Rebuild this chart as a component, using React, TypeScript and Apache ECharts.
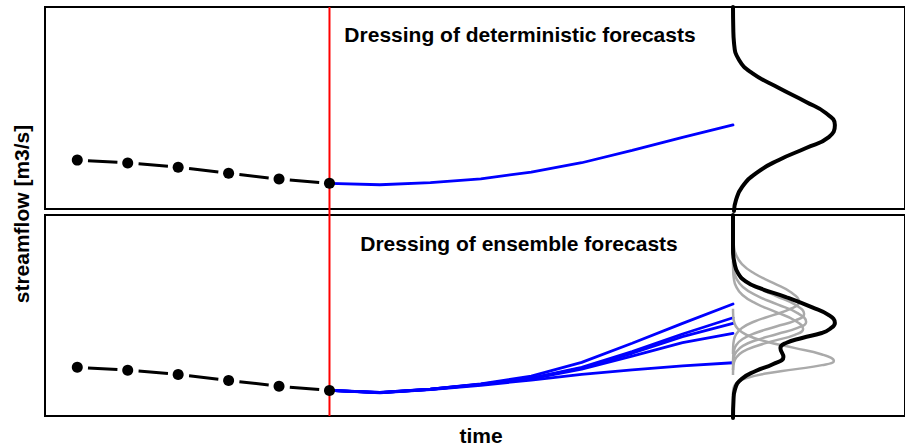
import React, { useEffect, useRef } from 'react';
import * as echarts from 'echarts';

// ---- data ----
const TIME_OBS = [-5, -4, -3, -2, -1, 0];
const OBS = [24.2, 22.8, 20.7, 17.7, 14.8, 12.7];

const TIME_FC = [0, 1, 2, 3, 4, 5, 6, 7, 8];
const DET_FC = [12.7, 12.0, 13.1, 14.9, 18.3, 22.9, 29.0, 35.5, 41.6];

const ENS_1 = [12.7, 11.8, 13.4, 16.0, 19.8, 26.7, 36.2, 46.1, 55.7];
const ENS_2 = [12.7, 11.7, 13.3, 15.8, 18.9, 24.2, 32.0, 40.8, 48.9];
const ENS_3 = [12.7, 11.6, 13.3, 15.7, 18.7, 23.8, 31.2, 39.5, 46.1];
const ENS_4 = [12.7, 11.6, 13.2, 15.6, 18.5, 23.3, 29.8, 36.5, 41.1];
const ENS_5 = [12.7, 11.5, 13.1, 15.3, 17.9, 20.7, 22.9, 24.9, 26.5];
const ENSEMBLE = [ENS_1, ENS_2, ENS_3, ENS_4, ENS_5];

// density curves at forecast end (time 8): [density, streamflow]
const DENS_BASE = 8;
const DET_DENSITY: [number, number][] = [
  [0.02, -1], [0.06, 4.5], [0.18, 10.9], [0.46, 17.8], [0.91, 24.3], [1.45, 30.2],
  [1.9, 35.6], [2.02, 41.6], [1.84, 47.5], [1.45, 53.0], [0.91, 59.9], [0.38, 67.3],
  [0.12, 73.8], [0.02, 82.2], [0.005, 90], [0, 100],
];

const KERNEL_1: [number, number][] = [
  [0, 30.8], [0.003, 34.1], [0.015, 37.3], [0.058, 40.5], [0.177, 43.8], [0.425, 47.0],
  [0.795, 50.2], [1.156, 53.5], [1.31, 56.7], [1.156, 61.4], [0.795, 66.2], [0.425, 70.9],
  [0.177, 75.6], [0.058, 80.3], [0.015, 85.1], [0.003, 89.8], [0, 94.5],
];
const KERNEL_2: [number, number][] = [
  [0, 25.8], [0.003, 28.9], [0.016, 32.0], [0.062, 35.2], [0.191, 38.3], [0.458, 41.4],
  [0.855, 44.5], [1.244, 47.6], [1.41, 50.7], [1.244, 55.2], [0.855, 59.7], [0.458, 64.1],
  [0.191, 68.6], [0.062, 73.1], [0.016, 77.6], [0.003, 82.1], [0, 86.5],
];
const KERNEL_3: [number, number][] = [
  [0, 22.9], [0.003, 25.9], [0.016, 28.9], [0.064, 31.9], [0.196, 34.9], [0.471, 37.8],
  [0.879, 40.8], [1.28, 43.8], [1.45, 46.8], [1.28, 51.2], [0.879, 55.5], [0.471, 59.9],
  [0.196, 64.2], [0.064, 68.6], [0.016, 72.9], [0.003, 77.3], [0, 81.6],
];
const KERNEL_4: [number, number][] = [
  [0, 20.4], [0.003, 23.3], [0.015, 26.1], [0.061, 29.0], [0.188, 31.9], [0.451, 34.7],
  [0.843, 37.6], [1.227, 40.4], [1.39, 43.3], [1.227, 47.5], [0.843, 51.8], [0.451, 56.0],
  [0.188, 60.2], [0.061, 64.5], [0.015, 68.7], [0.003, 72.9], [0, 77.1],
];
const KERNEL_5: [number, number][] = [
  [0, 10.5], [0.004, 12.6], [0.022, 14.7], [0.088, 16.8], [0.271, 18.9], [0.649, 21.1],
  [1.213, 23.2], [1.765, 25.3], [2.0, 27.4], [1.765, 30.6], [1.213, 33.9], [0.649, 37.1],
  [0.271, 40.3], [0.088, 43.6], [0.022, 46.8], [0.004, 50.0], [0, 53.3],
];
const KERNELS = [KERNEL_1, KERNEL_2, KERNEL_3, KERNEL_4, KERNEL_5];

const ENS_DENSITY: [number, number][] = [
  [0, -1], [0.01, 8.0], [0.04, 13.4], [0.17, 18.4], [0.45, 22.4], [0.8, 25.9],
  [1.0, 29.4], [0.94, 33.8], [1.05, 36.3], [1.37, 38.8], [1.76, 41.3], [1.92, 43.3],
  [2.02, 46.3], [1.9, 50.2], [1.56, 54.2], [1.05, 59.2], [0.52, 63.7], [0.25, 67.0],
  [0.1, 71.0], [0.03, 76.0], [0, 82.6], [0, 100],
];

const TITLE_TOP = 'Dressing of deterministic forecasts';
const TITLE_BOTTOM = 'Dressing of ensemble forecasts';
const Y_LABEL = 'streamflow [m3/s]';
const X_LABEL = 'time';

// ---- chart ----
const FONT = 'Liberation Sans, Arial, sans-serif';
const X_MIN = -5.64;
const X_MAX = 11.41;

function pairs(xs: number[], ys: number[]) {
  return xs.map((x, i) => [x, ys[i]]);
}
function densityToXY(d: [number, number][]) {
  return d.map(([dens, flow]) => [DENS_BASE + dens, flow]);
}

function buildOption(): echarts.EChartsOption {
  const series: any[] = [];
  // red vertical line at forecast start, spanning both panels
  series.push({
    type: 'line', xAxisIndex: 2, yAxisIndex: 2, data: [[0, 0], [0, 1]],
    symbol: 'none', lineStyle: { color: '#ff0000', width: 2 }, silent: true,
  });
  const obsSeries = (idx: number) => ({
    type: 'line', xAxisIndex: idx, yAxisIndex: idx, data: pairs(TIME_OBS, OBS),
    symbol: 'circle', symbolSize: 11, showAllSymbol: true,
    itemStyle: { color: '#000' },
    lineStyle: { color: '#000', width: 3, type: [29.5, 21.2], dashOffset: 40.1, cap: 'butt' },
    silent: true, z: 5,
  });
  // top panel
  series.push({
    type: 'line', xAxisIndex: 0, yAxisIndex: 0, data: pairs(TIME_FC, DET_FC),
    symbol: 'none', lineStyle: { color: '#0000ff', width: 2.8, cap: 'round' }, silent: true,
  });
  series.push(obsSeries(0));
  series.push({
    type: 'line', xAxisIndex: 0, yAxisIndex: 0, data: densityToXY(DET_DENSITY),
    symbol: 'none', smooth: 0.5, clip: false,
    lineStyle: { color: '#000', width: 4, cap: 'round' }, silent: true, z: 4,
  });
  // bottom panel
  ENSEMBLE.forEach((m) => {
    series.push({
      type: 'line', xAxisIndex: 1, yAxisIndex: 1, data: pairs(TIME_FC, m),
      symbol: 'none', lineStyle: { color: '#0000ff', width: 2.8, cap: 'round' }, silent: true,
    });
  });
  KERNELS.forEach((k) => {
    series.push({
      type: 'line', xAxisIndex: 1, yAxisIndex: 1, data: densityToXY(k),
      symbol: 'none', smooth: 0.5, clip: false,
      lineStyle: { color: '#aaaaaa', width: 2.5 }, silent: true, z: 3,
    });
  });
  series.push({
    type: 'line', xAxisIndex: 1, yAxisIndex: 1, data: densityToXY(ENS_DENSITY),
    symbol: 'none', smooth: 0.5, clip: false,
    lineStyle: { color: '#000', width: 4, cap: 'round' }, silent: true, z: 4,
  });
  series.push(obsSeries(1));

  const gridBase = { left: 45, width: 861, show: true, borderColor: '#000', borderWidth: 2, backgroundColor: 'transparent' };
  const xAx = (i: number) => ({ type: 'value', gridIndex: i, min: X_MIN, max: X_MAX, show: false });

  return {
    animation: false,
    grid: [
      { ...gridBase, top: 7, height: 202 },
      { ...gridBase, top: 215, height: 201 },
      { left: 45, width: 861, top: 7, height: 409, show: false },
    ],
    xAxis: [xAx(0), xAx(1), xAx(2)] as any,
    yAxis: [
      { type: 'value', gridIndex: 0, min: 0, max: 100, show: false },
      { type: 'value', gridIndex: 1, min: 0, max: 100, show: false },
      { type: 'value', gridIndex: 2, min: 0, max: 1, show: false },
    ],
    series,
    graphic: [
      {
        type: 'text', x: 520, y: 34, z: 10,
        style: { text: TITLE_TOP, fill: '#000', font: `bold 21px ${FONT}`, align: 'center', verticalAlign: 'middle' },
      },
      {
        type: 'text', x: 519, y: 243.5, z: 10,
        style: { text: TITLE_BOTTOM, fill: '#000', font: `bold 21px ${FONT}`, align: 'center', verticalAlign: 'middle' },
      },
      {
        type: 'text', x: 21, y: 214, rotation: Math.PI / 2, z: 10,
        style: { text: Y_LABEL, fill: '#000', font: `bold 21px ${FONT}`, align: 'center', verticalAlign: 'middle' },
      },
      {
        type: 'text', x: 481, y: 435.5, z: 10,
        style: { text: X_LABEL, fill: '#000', font: `bold 21px ${FONT}`, align: 'center', verticalAlign: 'middle' },
      },
    ],
  };
}

export default function App() {
  const ref = useRef<HTMLDivElement>(null);
  useEffect(() => {
    document.body.style.margin = '0';
    const chart = echarts.init(ref.current!, null, { renderer: 'svg' });
    chart.setOption(buildOption());
    return () => chart.dispose();
  }, []);
  return <div ref={ref} style={{ position: 'absolute', left: 0, top: 0, width: 905, height: 447 }} />;
}
